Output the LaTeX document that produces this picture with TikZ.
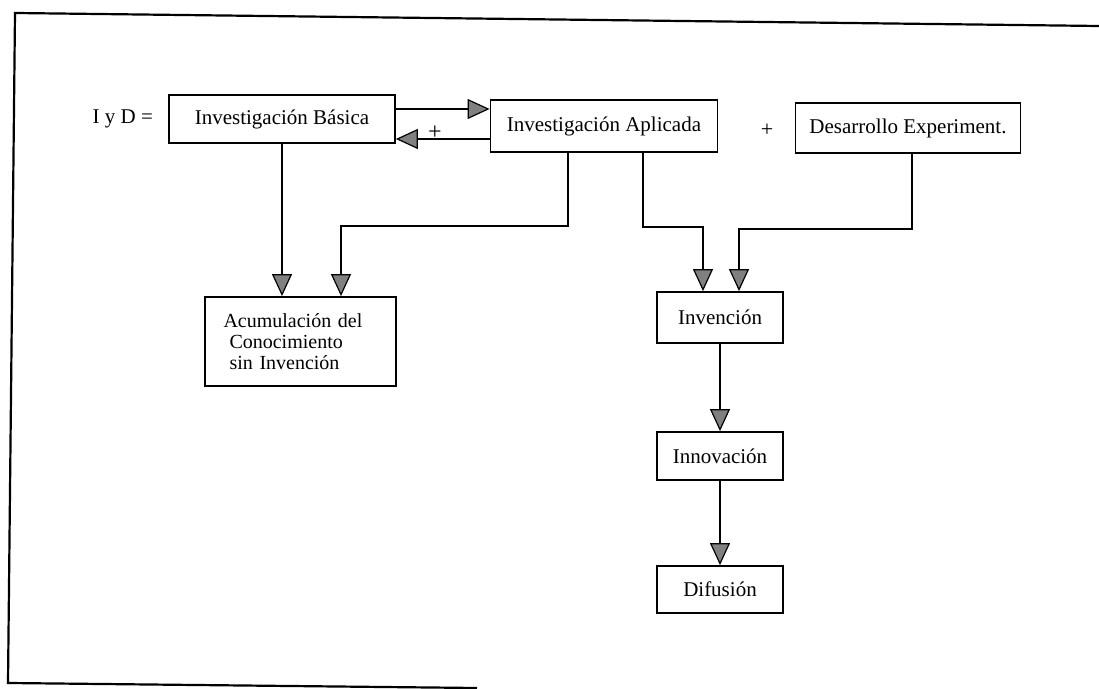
\documentclass[tikz,border=0pt]{standalone}
\usepackage{fontspec}
\setmainfont{Liberation Serif}
\usetikzlibrary{arrows.meta}

\begin{document}
\begin{tikzpicture}[x=0.5pt, y=-0.5pt, line join=miter,
        caja/.style={draw, line width=0.9pt, minimum height=24pt, font=\fontsize{10.5}{11.5}\selectfont},
        flecha/.style={line width=1pt, -{Triangle[width=10pt, length=11pt, color=black, fill=black!50, line width=0.6pt]}}]

        \useasboundingbox (0,0) rectangle (1099,689);

        % Posiciones x de las bajadas
        \def\xIAa{568}
        \def\xIAb{643}
        \def\xDE{912}
        \def\xInv{720}

        % ----------------------------------------------------
        % Marco exterior (escaneado, algo inclinado)
        % ----------------------------------------------------
        \draw[line width=1.1pt] (1099,26) -- (15,13) -- (8,683) -- (477,688);

        % ----------------------------------------------------
        % 1. Fila superior: I y D
        % ----------------------------------------------------
        \node[anchor=east, font=\fontsize{10.5}{11.5}\selectfont] (iyd) at (160,119) {I y D =};
        \node[caja, minimum width=113pt] (basica) at (282,119) {Investigación Básica};
        \node[caja, minimum width=113.5pt, minimum height=26pt] (aplicada) at (604,126) {Investigación Aplicada};
        \node[caja, minimum width=112.5pt, minimum height=25pt] (desarrollo) at (908,128) {Desarrollo Experiment.};
        \node[font=\fontsize{12}{13}\selectfont] (mas1) at (435,133) {+};
        \node[font=\fontsize{11}{12}\selectfont] (mas2) at (767,130) {+};

        % ida y vuelta entre basica y aplicada
        \draw[flecha] (basica.east |- 0,109) -- (aplicada.west |- 0,109);
        \draw[flecha] (aplicada.west |- 0,139) -- (basica.east |- 0,139);

        % ----------------------------------------------------
        % 2. Acumulacion del conocimiento
        % ----------------------------------------------------
        \node[caja, minimum width=95.5pt, minimum height=44.5pt, align=left, inner xsep=0pt,
              text width=77pt, font=\fontsize{10}{10.5}\selectfont] (acumulacion) at (300.5,341.5)
              {Acumulación del\\\hspace*{3pt}Conocimiento\\\hspace*{3pt}sin Invención};

        \coordinate (codoA) at (341,226);
        \draw[flecha] (basica.south) -- (basica.south |- acumulacion.north);
        \draw[flecha] (aplicada.south -| \xIAa,0) |- (codoA) -- (codoA |- acumulacion.north);

        % ----------------------------------------------------
        % 3. Invencion, innovacion, difusion
        % ----------------------------------------------------
        \node[caja, minimum width=63pt, minimum height=25.5pt] (invencion) at (\xInv,317.5) {Invención};
        \node[caja, minimum width=63pt] (innovacion) at (\xInv,456) {Innovación};
        \node[caja, minimum width=63pt, minimum height=23.5pt] (difusion) at (\xInv,589.5) {Difusión};

        \coordinate (codoB) at (703,227);
        \coordinate (codoC) at (739,229);
        \draw[flecha] (aplicada.south -| \xIAb,0) |- (codoB) -- (codoB |- invencion.north);
        \draw[flecha] (desarrollo.south -| \xDE,0) |- (codoC) -- (codoC |- invencion.north);
        \draw[flecha] (invencion) -- (innovacion);
        \draw[flecha] (innovacion) -- (difusion);

    \end{tikzpicture}
\end{document}
